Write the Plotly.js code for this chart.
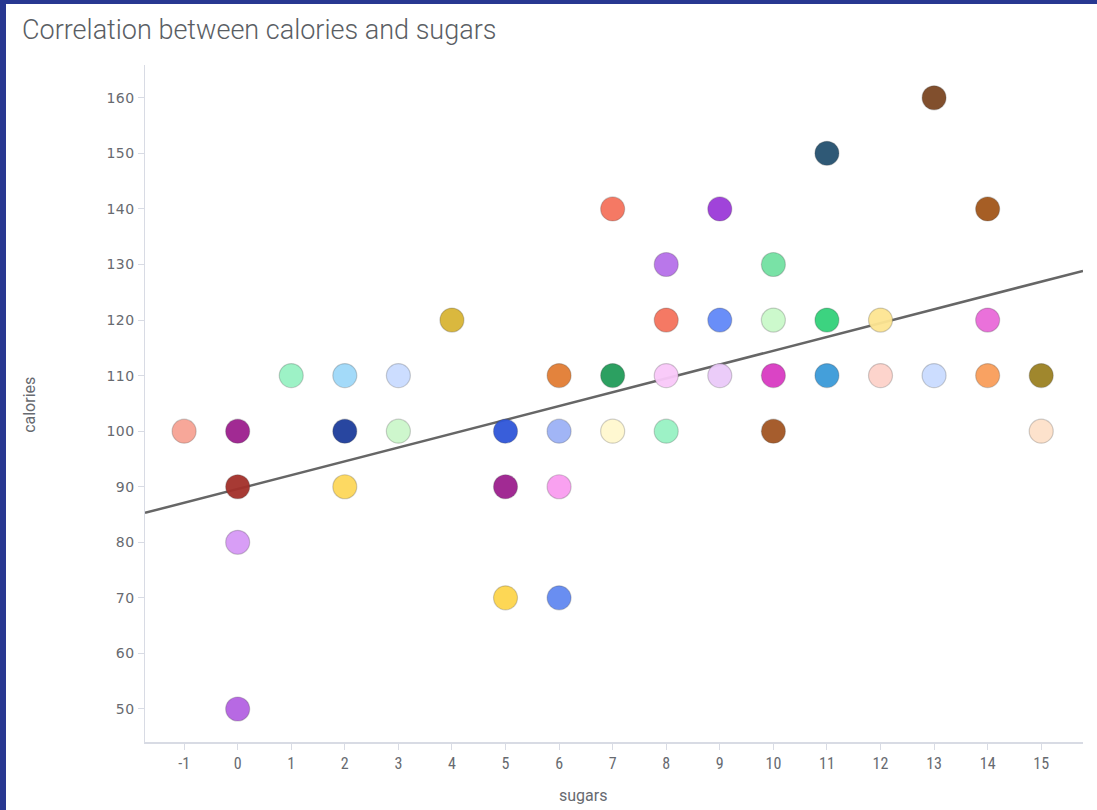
<!DOCTYPE html>
<html>
<head>
<meta charset="utf-8">
<script src="https://cdn.plot.ly/plotly-3.0.1.min.js"></script>
<style>
  html, body { margin: 0; padding: 0; background: #283891; }
  #frame { position: absolute; left: 6px; top: 4px; width: 1091px; height: 806px; background: #ffffff; }
  #chart { width: 1091px; height: 806px; }
  .ytick text { letter-spacing: 0.5px; }
</style>
</head>
<body>
<div id="frame"><div id="chart"></div></div>
<script>
// Data
const sugars   = [-1, 0, 0, 0, 0, 1, 2, 2, 2, 3, 3, 4, 5, 5, 5, 6, 6, 6, 6, 7, 7, 7, 8, 8, 8, 8, 9, 9, 9, 10, 10, 10, 10, 11, 11, 11, 12, 12, 13, 13, 14, 14, 14, 15, 15];
const calories = [100, 100, 90, 80, 50, 110, 110, 100, 90, 110, 100, 120, 100, 90, 70, 110, 100, 90, 70, 140, 110, 100, 130, 120, 110, 100, 140, 120, 110, 130, 120, 110, 100, 150, 120, 110, 120, 110, 160, 110, 140, 120, 110, 110, 100];
const pointColors = [
  '#f7a394', '#9c1f8e', '#a3302a', '#d699f6', '#b462e2',
  '#98f2c3', '#9fd9f9', '#1d3d9b', '#fdd75a',
  '#cadcff', '#ccf7cb', '#d9b534',
  '#2f56d9', '#9c1f8e', '#fdd54c',
  '#e27d33', '#9cb2f6', '#f99df0', '#6289f1',
  '#f5725c', '#219b59', '#fff8cf',
  '#b670e9', '#f5725c', '#f9c9f9', '#98f2c3',
  '#9b39d9', '#6289f8', '#eacaf9',
  '#72e1a2', '#caf9ca', '#d93ac2', '#a25522',
  '#24516f', '#32d17a', '#3a9ad9',
  '#fde592', '#fdd2ca',
  '#7b4622', '#cadcff',
  '#a2561a', '#e96ad9', '#f99e5a',
  '#9b8122', '#fde1ca'
];
// Trend line end points
const trendX = [-1.73, 15.78];
const trendY = [85.3, 128.85];

const xTicks = [-1, 0, 1, 2, 3, 4, 5, 6, 7, 8, 9, 10, 11, 12, 13, 14, 15];
const yTicks = [50, 60, 70, 80, 90, 100, 110, 120, 130, 140, 150, 160];

const traces = [
  {
    type: 'scatter', mode: 'lines',
    x: trendX, y: trendY,
    line: { color: '#666666', width: 2.5 },
    hoverinfo: 'skip'
  },
  {
    type: 'scatter', mode: 'markers',
    x: sugars, y: calories,
    marker: {
      size: 24,
      color: pointColors,
      opacity: 0.95,
      line: { color: 'rgba(60,60,60,0.25)', width: 1.2 }
    }
  }
];

const narrowFont = { family: '"Liberation Sans Narrow", "Roboto Condensed", Roboto, sans-serif', size: 16, color: '#676a70' };

const layout = {
  width: 1091, height: 806,
  paper_bgcolor: '#ffffff', plot_bgcolor: '#ffffff',
  showlegend: false,
  margin: { l: 139, r: 14, t: 61, b: 68 },
  title: {
    text: 'Correlation between calories and sugars',
    font: { family: 'Roboto, "Noto Sans", sans-serif', size: 27, weight: 300, color: '#5a5e64' },
    xref: 'container', yref: 'container',
    x: 16 / 1091, xanchor: 'left',
    y: 1 - 26 / 806, yanchor: 'middle'
  },
  xaxis: {
    range: [-1.73, 15.78],
    tickvals: xTicks, ticktext: xTicks.map(String),
    showgrid: false, zeroline: false,
    showline: true, linecolor: '#d8dbe4', linewidth: 1.5,
    ticks: 'outside', ticklen: 6, tickcolor: '#d8dbe4',
    tickfont: narrowFont
  },
  yaxis: {
    range: [44.06, 165.9],
    tickvals: yTicks, ticktext: yTicks.map(String),
    showgrid: false, zeroline: false,
    showline: true, linecolor: '#d8dbe4', linewidth: 1.5,
    ticks: 'outside', ticklen: 6, tickcolor: '#d8dbe4',
    tickfont: { family: '"DejaVu Sans", Verdana, sans-serif', size: 14, color: '#676a70' }
  },
  annotations: [
    {
      text: 'calories', xref: 'paper', yref: 'paper',
      x: -115 / 938, y: 0.498, textangle: -90,
      showarrow: false, xanchor: 'center', yanchor: 'middle',
      font: { family: '"Liberation Sans Narrow", Roboto, sans-serif', size: 16, color: '#676a70' }
    },
    {
      text: 'sugars', xref: 'paper', yref: 'paper',
      x: 0.467, y: -53 / 677,
      showarrow: false, xanchor: 'center', yanchor: 'middle',
      font: { family: '"Liberation Sans Narrow", Roboto, sans-serif', size: 16, color: '#676a70' }
    }
  ]
};

Plotly.newPlot('chart', traces, layout, { displayModeBar: false, staticPlot: true });
</script>
</body>
</html>
